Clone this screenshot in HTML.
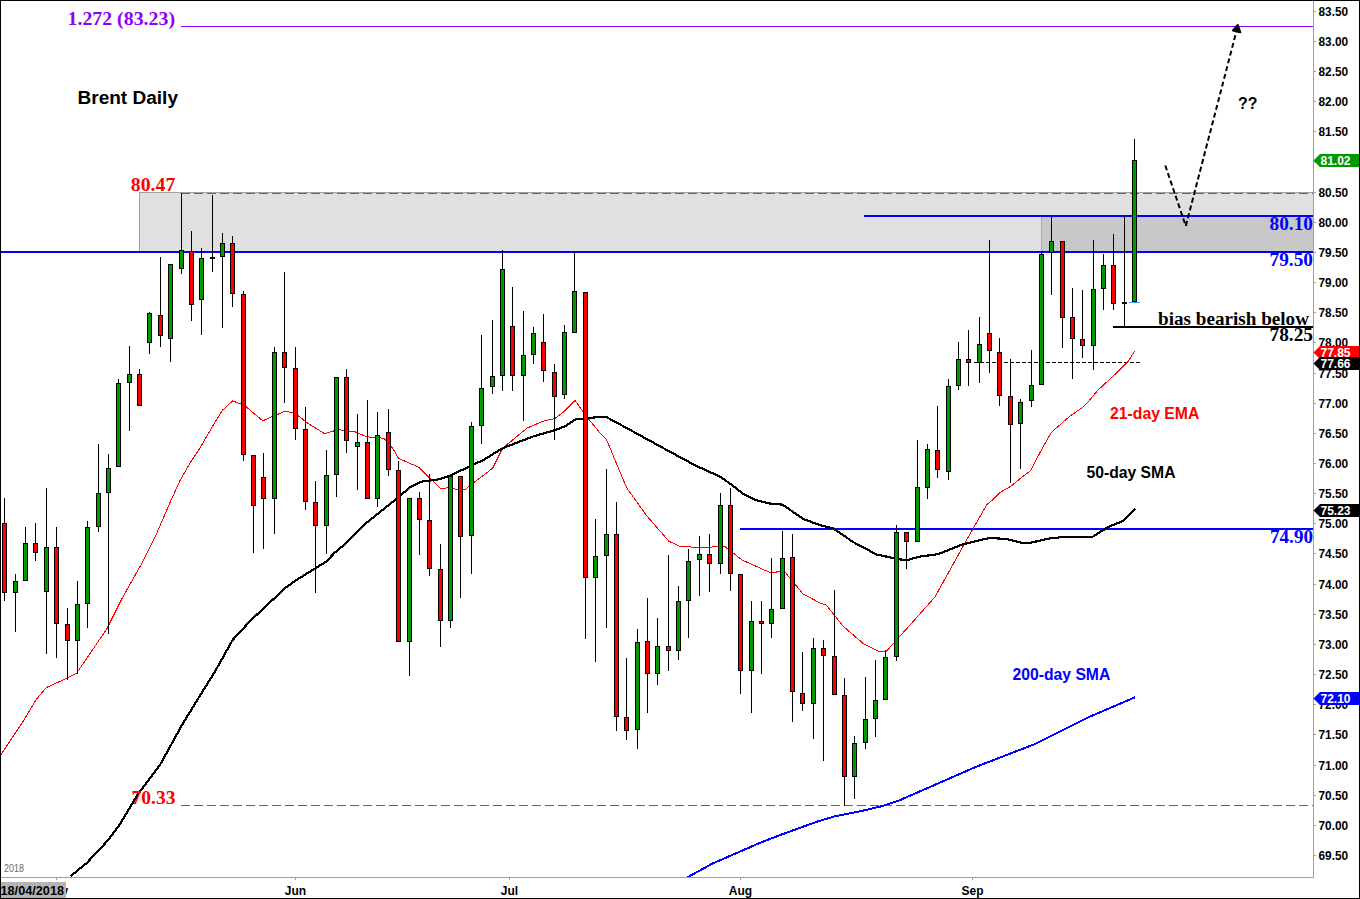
<!DOCTYPE html>
<html><head><meta charset="utf-8"><title>Brent Daily</title>
<style>html,body{margin:0;padding:0;background:#fff;width:1360px;height:899px;overflow:hidden}</style>
</head><body>
<svg width="1360" height="899" viewBox="0 0 1360 899" style="display:block">
<rect x="0" y="0" width="1360" height="899" fill="#ffffff"/>
<g shape-rendering="crispEdges">
<rect x="139" y="192" width="1174" height="60" fill="#e0e0e0"/>
<rect x="139" y="192" width="1174" height="1" fill="#a0a0a0"/>
<rect x="139" y="192" width="1" height="60" fill="#a0a0a0"/>
<rect x="1041" y="216" width="272" height="36" fill="#c8c8c8"/>
<rect x="1041" y="216" width="1" height="36" fill="#a8a8a8"/>
<line x1="181" y1="193.5" x2="1313" y2="193.5" stroke="#f02a2a" stroke-width="1" stroke-dasharray="9 4"/>
<line x1="181" y1="805.5" x2="1313" y2="805.5" stroke="#f02a2a" stroke-width="1" stroke-dasharray="9 4"/>
<rect x="181" y="26" width="1132" height="1" fill="#8a00ff"/>
<rect x="864" y="215" width="449" height="2" fill="#0000ff"/>
<rect x="0" y="251" width="1313" height="2" fill="#0000ff"/>
<rect x="740" y="528" width="573" height="2" fill="#0000ff"/>
<rect x="1113" y="326" width="200" height="2" fill="#000000"/>
<line x1="974" y1="362.5" x2="1140" y2="362.5" stroke="#000" stroke-width="1" stroke-dasharray="4 2"/>
</g>
<defs><clipPath id="plot"><rect x="1" y="1" width="1312" height="876"/></clipPath></defs>
<g clip-path="url(#plot)">
<path d="M0.0,756.0 L23.1,721.4 L36.1,699.8 L46.2,687.6 L66.7,678.3 L76.8,673.0 L106.8,628.9 L121.2,600.0 L132.4,580.0 L142.4,562.4 L155.7,535.7 L169.1,504.6 L180.2,480.1 L189.1,464.5 L200.0,447.9 L215.0,422.2 L222.6,410.1 L232.5,401.0 L243.9,404.9 L262.7,420.8 L272.8,416.4 L284.4,411.5 L294.5,412.7 L307.5,423.1 L324.8,433.8 L337.9,429.6 L355.2,431.9 L366.8,436.8 L384.1,438.3 L392.8,448.4 L398.6,458.5 L418.8,467.2 L430.4,478.7 L440.5,488.8 L450.6,487.4 L459.3,490.3 L465.0,489.7 L469.5,485.7 L492.6,468.3 L502.7,448.1 L527.3,427.9 L544.6,420.6 L554.7,418.6 L563.4,412.0 L575.0,400.4 L585.9,415.8 L600.0,432.9 L606.7,440.0 L617.8,466.7 L626.7,487.9 L646.7,515.7 L669.0,541.3 L680.1,546.4 L706.8,547.9 L715.7,546.4 L724.6,546.4 L742.4,560.2 L771.3,573.1 L778.0,571.7 L784.7,571.7 L800.0,590.2 L802.7,593.7 L820.0,603.0 L826.0,604.8 L843.4,626.5 L863.6,643.8 L878.0,651.0 L886.7,651.0 L898.3,638.0 L914.7,619.8 L934.9,597.0 L963.8,545.0 L986.9,504.5 L992.7,499.9 L1000.7,492.0 L1011.3,486.0 L1020.7,478.0 L1030.7,470.7 L1036.7,458.7 L1044.7,444.0 L1051.3,432.4 L1070.0,416.0 L1082.2,407.7 L1088.3,401.6 L1098.1,390.0 L1116.7,372.8 L1128.3,361.2 L1134.6,351.1" fill="none" stroke="#ff0000" stroke-width="1" stroke-linejoin="round" shape-rendering="crispEdges"/>
<path d="M70.8,876.0 L86.7,863.0 L108.4,839.9 L120.0,824.0 L137.3,795.1 L160.2,764.6 L182.2,724.6 L200.0,695.6 L215.4,670.8 L232.7,639.9 L250.0,621.1 L261.2,610.6 L285.8,587.5 L296.0,580.3 L314.7,568.7 L326.3,561.5 L335.0,552.4 L345.0,544.2 L363.9,525.0 L392.8,501.8 L410.1,487.4 L421.7,481.6 L439.0,479.3 L450.6,475.3 L465.0,468.6 L483.9,459.7 L502.7,448.1 L533.0,436.5 L554.7,430.2 L564.8,426.4 L576.4,418.6 L584.5,418.7 L600.0,416.7 L605.6,416.7 L622.2,425.6 L644.5,437.8 L666.7,450.0 L695.7,465.6 L720.1,476.7 L731.3,484.5 L742.4,493.4 L755.7,500.1 L769.1,503.4 L782.4,504.6 L790.0,509.8 L803.7,519.2 L818.9,524.7 L833.4,528.6 L853.6,542.3 L876.8,554.6 L894.1,558.2 L905.7,560.4 L920.5,556.5 L937.8,554.2 L960.9,545.0 L981.2,539.8 L990.0,537.9 L1007.1,539.1 L1021.8,542.8 L1030.3,542.8 L1048.7,538.6 L1065.8,536.7 L1092.7,536.7 L1107.4,527.4 L1123.3,520.8 L1135.5,508.6" fill="none" stroke="#000000" stroke-width="2.2" stroke-linejoin="round" shape-rendering="crispEdges"/>
<path d="M686.0,878.0 L688.9,876.5 L712.4,863.6 L736.6,853.0 L760.9,842.5 L781.9,834.4 L817.5,821.5 L833.7,816.6 L858.0,811.8 L882.3,806.1 L900.0,800.1 L933.4,785.5 L976.1,766.8 L1034.8,744.1 L1088.2,717.4 L1134.9,697.4" fill="none" stroke="#0000ff" stroke-width="2" stroke-linejoin="round" shape-rendering="crispEdges"/>
</g>
<g shape-rendering="crispEdges">
<rect x="1129" y="302" width="11" height="1" fill="#22a6ff"/>
<rect x="4" y="498" width="1" height="103" fill="#000"/>
<rect x="2" y="523" width="5" height="70" fill="#000"/>
<rect x="3" y="524" width="3" height="68" fill="#ff0000"/>
<rect x="15" y="574" width="1" height="58" fill="#000"/>
<rect x="13" y="581" width="5" height="12" fill="#000"/>
<rect x="14" y="582" width="3" height="10" fill="#009a00"/>
<rect x="25" y="527" width="1" height="54" fill="#000"/>
<rect x="23" y="543" width="5" height="38" fill="#000"/>
<rect x="24" y="544" width="3" height="36" fill="#009a00"/>
<rect x="35" y="523" width="1" height="38" fill="#000"/>
<rect x="33" y="543" width="5" height="10" fill="#000"/>
<rect x="34" y="544" width="3" height="8" fill="#ff0000"/>
<rect x="46" y="488" width="1" height="166" fill="#000"/>
<rect x="44" y="547" width="5" height="45" fill="#000"/>
<rect x="45" y="548" width="3" height="43" fill="#009a00"/>
<rect x="56" y="527" width="1" height="131" fill="#000"/>
<rect x="54" y="547" width="5" height="77" fill="#000"/>
<rect x="55" y="548" width="3" height="75" fill="#ff0000"/>
<rect x="67" y="608" width="1" height="72" fill="#000"/>
<rect x="65" y="624" width="5" height="17" fill="#000"/>
<rect x="66" y="625" width="3" height="15" fill="#ff0000"/>
<rect x="77" y="581" width="1" height="93" fill="#000"/>
<rect x="75" y="604" width="5" height="37" fill="#000"/>
<rect x="76" y="605" width="3" height="35" fill="#009a00"/>
<rect x="87" y="521" width="1" height="107" fill="#000"/>
<rect x="85" y="527" width="5" height="77" fill="#000"/>
<rect x="86" y="528" width="3" height="75" fill="#009a00"/>
<rect x="98" y="444" width="1" height="88" fill="#000"/>
<rect x="96" y="493" width="5" height="34" fill="#000"/>
<rect x="97" y="494" width="3" height="32" fill="#009a00"/>
<rect x="108" y="454" width="1" height="180" fill="#000"/>
<rect x="106" y="468" width="5" height="25" fill="#000"/>
<rect x="107" y="469" width="3" height="23" fill="#009a00"/>
<rect x="118" y="379" width="1" height="88" fill="#000"/>
<rect x="116" y="383" width="5" height="84" fill="#000"/>
<rect x="117" y="384" width="3" height="82" fill="#009a00"/>
<rect x="129" y="346" width="1" height="85" fill="#000"/>
<rect x="127" y="374" width="5" height="9" fill="#000"/>
<rect x="128" y="375" width="3" height="7" fill="#009a00"/>
<rect x="139" y="369" width="1" height="37" fill="#000"/>
<rect x="137" y="374" width="5" height="32" fill="#000"/>
<rect x="138" y="375" width="3" height="30" fill="#ff0000"/>
<rect x="149" y="312" width="1" height="42" fill="#000"/>
<rect x="147" y="313" width="5" height="30" fill="#000"/>
<rect x="148" y="314" width="3" height="28" fill="#009a00"/>
<rect x="160" y="257" width="1" height="90" fill="#000"/>
<rect x="158" y="315" width="5" height="21" fill="#000"/>
<rect x="159" y="316" width="3" height="19" fill="#ff0000"/>
<rect x="170" y="264" width="1" height="98" fill="#000"/>
<rect x="168" y="264" width="5" height="75" fill="#000"/>
<rect x="169" y="265" width="3" height="73" fill="#009a00"/>
<rect x="181" y="193" width="1" height="81" fill="#000"/>
<rect x="179" y="250" width="5" height="19" fill="#000"/>
<rect x="180" y="251" width="3" height="17" fill="#009a00"/>
<rect x="191" y="231" width="1" height="90" fill="#000"/>
<rect x="189" y="251" width="5" height="54" fill="#000"/>
<rect x="190" y="252" width="3" height="52" fill="#ff0000"/>
<rect x="201" y="248" width="1" height="87" fill="#000"/>
<rect x="199" y="258" width="5" height="42" fill="#000"/>
<rect x="200" y="259" width="3" height="40" fill="#009a00"/>
<rect x="212" y="195" width="1" height="77" fill="#000"/>
<rect x="210" y="257" width="5" height="2" fill="#000"/>
<rect x="222" y="233" width="1" height="95" fill="#000"/>
<rect x="220" y="243" width="5" height="14" fill="#000"/>
<rect x="221" y="244" width="3" height="12" fill="#009a00"/>
<rect x="232" y="236" width="1" height="71" fill="#000"/>
<rect x="230" y="243" width="5" height="51" fill="#000"/>
<rect x="231" y="244" width="3" height="49" fill="#ff0000"/>
<rect x="243" y="291" width="1" height="170" fill="#000"/>
<rect x="241" y="294" width="5" height="161" fill="#000"/>
<rect x="242" y="295" width="3" height="159" fill="#ff0000"/>
<rect x="253" y="455" width="1" height="98" fill="#000"/>
<rect x="251" y="455" width="5" height="51" fill="#000"/>
<rect x="252" y="456" width="3" height="49" fill="#ff0000"/>
<rect x="263" y="453" width="1" height="96" fill="#000"/>
<rect x="261" y="477" width="5" height="22" fill="#000"/>
<rect x="262" y="478" width="3" height="20" fill="#ff0000"/>
<rect x="274" y="347" width="1" height="187" fill="#000"/>
<rect x="272" y="352" width="5" height="147" fill="#000"/>
<rect x="273" y="353" width="3" height="145" fill="#009a00"/>
<rect x="284" y="272" width="1" height="131" fill="#000"/>
<rect x="282" y="352" width="5" height="16" fill="#000"/>
<rect x="283" y="353" width="3" height="14" fill="#ff0000"/>
<rect x="295" y="347" width="1" height="93" fill="#000"/>
<rect x="293" y="368" width="5" height="61" fill="#000"/>
<rect x="294" y="369" width="3" height="59" fill="#ff0000"/>
<rect x="305" y="407" width="1" height="103" fill="#000"/>
<rect x="303" y="429" width="5" height="73" fill="#000"/>
<rect x="304" y="430" width="3" height="71" fill="#ff0000"/>
<rect x="315" y="481" width="1" height="112" fill="#000"/>
<rect x="313" y="502" width="5" height="24" fill="#000"/>
<rect x="314" y="503" width="3" height="22" fill="#ff0000"/>
<rect x="326" y="450" width="1" height="104" fill="#000"/>
<rect x="324" y="475" width="5" height="51" fill="#000"/>
<rect x="325" y="476" width="3" height="49" fill="#009a00"/>
<rect x="336" y="377" width="1" height="120" fill="#000"/>
<rect x="334" y="377" width="5" height="98" fill="#000"/>
<rect x="335" y="378" width="3" height="96" fill="#009a00"/>
<rect x="346" y="369" width="1" height="84" fill="#000"/>
<rect x="344" y="377" width="5" height="64" fill="#000"/>
<rect x="345" y="378" width="3" height="62" fill="#ff0000"/>
<rect x="357" y="414" width="1" height="76" fill="#000"/>
<rect x="355" y="442" width="5" height="5" fill="#000"/>
<rect x="356" y="443" width="3" height="3" fill="#009a00"/>
<rect x="367" y="400" width="1" height="99" fill="#000"/>
<rect x="365" y="442" width="5" height="57" fill="#000"/>
<rect x="366" y="443" width="3" height="55" fill="#ff0000"/>
<rect x="377" y="412" width="1" height="95" fill="#000"/>
<rect x="375" y="435" width="5" height="64" fill="#000"/>
<rect x="376" y="436" width="3" height="62" fill="#009a00"/>
<rect x="388" y="409" width="1" height="67" fill="#000"/>
<rect x="386" y="432" width="5" height="38" fill="#000"/>
<rect x="387" y="433" width="3" height="36" fill="#ff0000"/>
<rect x="398" y="461" width="1" height="181" fill="#000"/>
<rect x="396" y="470" width="5" height="172" fill="#000"/>
<rect x="397" y="471" width="3" height="170" fill="#ff0000"/>
<rect x="409" y="498" width="1" height="178" fill="#000"/>
<rect x="407" y="498" width="5" height="144" fill="#000"/>
<rect x="408" y="499" width="3" height="142" fill="#009a00"/>
<rect x="419" y="492" width="1" height="63" fill="#000"/>
<rect x="417" y="498" width="5" height="22" fill="#000"/>
<rect x="418" y="499" width="3" height="20" fill="#ff0000"/>
<rect x="429" y="474" width="1" height="102" fill="#000"/>
<rect x="427" y="520" width="5" height="49" fill="#000"/>
<rect x="428" y="521" width="3" height="47" fill="#ff0000"/>
<rect x="440" y="544" width="1" height="103" fill="#000"/>
<rect x="438" y="569" width="5" height="52" fill="#000"/>
<rect x="439" y="570" width="3" height="50" fill="#ff0000"/>
<rect x="450" y="474" width="1" height="154" fill="#000"/>
<rect x="448" y="476" width="5" height="145" fill="#000"/>
<rect x="449" y="477" width="3" height="143" fill="#009a00"/>
<rect x="460" y="476" width="1" height="122" fill="#000"/>
<rect x="458" y="476" width="5" height="61" fill="#000"/>
<rect x="459" y="477" width="3" height="59" fill="#ff0000"/>
<rect x="471" y="422" width="1" height="152" fill="#000"/>
<rect x="469" y="426" width="5" height="110" fill="#000"/>
<rect x="470" y="427" width="3" height="108" fill="#009a00"/>
<rect x="481" y="335" width="1" height="109" fill="#000"/>
<rect x="479" y="388" width="5" height="38" fill="#000"/>
<rect x="480" y="389" width="3" height="36" fill="#009a00"/>
<rect x="492" y="320" width="1" height="74" fill="#000"/>
<rect x="490" y="376" width="5" height="11" fill="#000"/>
<rect x="491" y="377" width="3" height="9" fill="#009a00"/>
<rect x="502" y="250" width="1" height="141" fill="#000"/>
<rect x="500" y="269" width="5" height="107" fill="#000"/>
<rect x="501" y="270" width="3" height="105" fill="#009a00"/>
<rect x="512" y="287" width="1" height="104" fill="#000"/>
<rect x="510" y="326" width="5" height="50" fill="#000"/>
<rect x="511" y="327" width="3" height="48" fill="#ff0000"/>
<rect x="523" y="311" width="1" height="110" fill="#000"/>
<rect x="521" y="355" width="5" height="21" fill="#000"/>
<rect x="522" y="356" width="3" height="19" fill="#009a00"/>
<rect x="533" y="327" width="1" height="37" fill="#000"/>
<rect x="531" y="333" width="5" height="22" fill="#000"/>
<rect x="532" y="334" width="3" height="20" fill="#009a00"/>
<rect x="543" y="314" width="1" height="68" fill="#000"/>
<rect x="541" y="342" width="5" height="29" fill="#000"/>
<rect x="542" y="343" width="3" height="27" fill="#ff0000"/>
<rect x="554" y="364" width="1" height="76" fill="#000"/>
<rect x="552" y="372" width="5" height="25" fill="#000"/>
<rect x="553" y="373" width="3" height="23" fill="#ff0000"/>
<rect x="564" y="325" width="1" height="74" fill="#000"/>
<rect x="562" y="332" width="5" height="63" fill="#000"/>
<rect x="563" y="333" width="3" height="61" fill="#009a00"/>
<rect x="574" y="252" width="1" height="81" fill="#000"/>
<rect x="572" y="291" width="5" height="42" fill="#000"/>
<rect x="573" y="292" width="3" height="40" fill="#009a00"/>
<rect x="585" y="292" width="1" height="347" fill="#000"/>
<rect x="583" y="292" width="5" height="286" fill="#000"/>
<rect x="584" y="293" width="3" height="284" fill="#ff0000"/>
<rect x="595" y="519" width="1" height="143" fill="#000"/>
<rect x="593" y="556" width="5" height="22" fill="#000"/>
<rect x="594" y="557" width="3" height="20" fill="#009a00"/>
<rect x="606" y="469" width="1" height="159" fill="#000"/>
<rect x="604" y="534" width="5" height="22" fill="#000"/>
<rect x="605" y="535" width="3" height="20" fill="#009a00"/>
<rect x="616" y="502" width="1" height="229" fill="#000"/>
<rect x="614" y="534" width="5" height="183" fill="#000"/>
<rect x="615" y="535" width="3" height="181" fill="#ff0000"/>
<rect x="626" y="658" width="1" height="82" fill="#000"/>
<rect x="624" y="717" width="5" height="14" fill="#000"/>
<rect x="625" y="718" width="3" height="12" fill="#ff0000"/>
<rect x="637" y="629" width="1" height="120" fill="#000"/>
<rect x="635" y="642" width="5" height="88" fill="#000"/>
<rect x="636" y="643" width="3" height="86" fill="#009a00"/>
<rect x="647" y="598" width="1" height="115" fill="#000"/>
<rect x="645" y="641" width="5" height="33" fill="#000"/>
<rect x="646" y="642" width="3" height="31" fill="#ff0000"/>
<rect x="657" y="618" width="1" height="67" fill="#000"/>
<rect x="655" y="646" width="5" height="28" fill="#000"/>
<rect x="656" y="647" width="3" height="26" fill="#009a00"/>
<rect x="668" y="555" width="1" height="116" fill="#000"/>
<rect x="666" y="646" width="5" height="5" fill="#000"/>
<rect x="667" y="647" width="3" height="3" fill="#ff0000"/>
<rect x="678" y="586" width="1" height="74" fill="#000"/>
<rect x="676" y="601" width="5" height="50" fill="#000"/>
<rect x="677" y="602" width="3" height="48" fill="#009a00"/>
<rect x="688" y="549" width="1" height="89" fill="#000"/>
<rect x="686" y="561" width="5" height="40" fill="#000"/>
<rect x="687" y="562" width="3" height="38" fill="#009a00"/>
<rect x="699" y="536" width="1" height="60" fill="#000"/>
<rect x="697" y="554" width="5" height="6" fill="#000"/>
<rect x="698" y="555" width="3" height="4" fill="#009a00"/>
<rect x="709" y="534" width="1" height="58" fill="#000"/>
<rect x="707" y="554" width="5" height="10" fill="#000"/>
<rect x="708" y="555" width="3" height="8" fill="#ff0000"/>
<rect x="720" y="493" width="1" height="81" fill="#000"/>
<rect x="718" y="505" width="5" height="59" fill="#000"/>
<rect x="719" y="506" width="3" height="57" fill="#009a00"/>
<rect x="730" y="488" width="1" height="103" fill="#000"/>
<rect x="728" y="505" width="5" height="69" fill="#000"/>
<rect x="729" y="506" width="3" height="67" fill="#ff0000"/>
<rect x="740" y="574" width="1" height="120" fill="#000"/>
<rect x="738" y="574" width="5" height="97" fill="#000"/>
<rect x="739" y="575" width="3" height="95" fill="#ff0000"/>
<rect x="751" y="601" width="1" height="112" fill="#000"/>
<rect x="749" y="621" width="5" height="50" fill="#000"/>
<rect x="750" y="622" width="3" height="48" fill="#009a00"/>
<rect x="761" y="601" width="1" height="73" fill="#000"/>
<rect x="759" y="621" width="5" height="3" fill="#000"/>
<rect x="760" y="622" width="3" height="1" fill="#ff0000"/>
<rect x="771" y="558" width="1" height="80" fill="#000"/>
<rect x="769" y="609" width="5" height="15" fill="#000"/>
<rect x="770" y="610" width="3" height="13" fill="#009a00"/>
<rect x="782" y="531" width="1" height="78" fill="#000"/>
<rect x="780" y="558" width="5" height="51" fill="#000"/>
<rect x="781" y="559" width="3" height="49" fill="#009a00"/>
<rect x="792" y="534" width="1" height="188" fill="#000"/>
<rect x="790" y="557" width="5" height="135" fill="#000"/>
<rect x="791" y="558" width="3" height="133" fill="#ff0000"/>
<rect x="802" y="652" width="1" height="59" fill="#000"/>
<rect x="800" y="693" width="5" height="11" fill="#000"/>
<rect x="801" y="694" width="3" height="9" fill="#ff0000"/>
<rect x="813" y="638" width="1" height="101" fill="#000"/>
<rect x="811" y="648" width="5" height="56" fill="#000"/>
<rect x="812" y="649" width="3" height="54" fill="#009a00"/>
<rect x="823" y="640" width="1" height="121" fill="#000"/>
<rect x="821" y="648" width="5" height="8" fill="#000"/>
<rect x="822" y="649" width="3" height="6" fill="#ff0000"/>
<rect x="834" y="590" width="1" height="105" fill="#000"/>
<rect x="832" y="656" width="5" height="39" fill="#000"/>
<rect x="833" y="657" width="3" height="37" fill="#ff0000"/>
<rect x="844" y="678" width="1" height="128" fill="#000"/>
<rect x="842" y="695" width="5" height="82" fill="#000"/>
<rect x="843" y="696" width="3" height="80" fill="#ff0000"/>
<rect x="854" y="736" width="1" height="63" fill="#000"/>
<rect x="852" y="743" width="5" height="34" fill="#000"/>
<rect x="853" y="744" width="3" height="32" fill="#009a00"/>
<rect x="865" y="677" width="1" height="72" fill="#000"/>
<rect x="863" y="719" width="5" height="24" fill="#000"/>
<rect x="864" y="720" width="3" height="22" fill="#009a00"/>
<rect x="875" y="660" width="1" height="77" fill="#000"/>
<rect x="873" y="700" width="5" height="19" fill="#000"/>
<rect x="874" y="701" width="3" height="17" fill="#009a00"/>
<rect x="885" y="650" width="1" height="50" fill="#000"/>
<rect x="883" y="657" width="5" height="43" fill="#000"/>
<rect x="884" y="658" width="3" height="41" fill="#009a00"/>
<rect x="896" y="525" width="1" height="136" fill="#000"/>
<rect x="894" y="532" width="5" height="125" fill="#000"/>
<rect x="895" y="533" width="3" height="123" fill="#009a00"/>
<rect x="906" y="532" width="1" height="37" fill="#000"/>
<rect x="904" y="532" width="5" height="10" fill="#000"/>
<rect x="905" y="533" width="3" height="8" fill="#ff0000"/>
<rect x="917" y="440" width="1" height="102" fill="#000"/>
<rect x="915" y="487" width="5" height="55" fill="#000"/>
<rect x="916" y="488" width="3" height="53" fill="#009a00"/>
<rect x="927" y="444" width="1" height="55" fill="#000"/>
<rect x="925" y="449" width="5" height="39" fill="#000"/>
<rect x="926" y="450" width="3" height="37" fill="#009a00"/>
<rect x="937" y="406" width="1" height="72" fill="#000"/>
<rect x="935" y="450" width="5" height="20" fill="#000"/>
<rect x="936" y="451" width="3" height="18" fill="#ff0000"/>
<rect x="948" y="379" width="1" height="101" fill="#000"/>
<rect x="946" y="386" width="5" height="86" fill="#000"/>
<rect x="947" y="387" width="3" height="84" fill="#009a00"/>
<rect x="958" y="342" width="1" height="48" fill="#000"/>
<rect x="956" y="359" width="5" height="27" fill="#000"/>
<rect x="957" y="360" width="3" height="25" fill="#009a00"/>
<rect x="968" y="330" width="1" height="56" fill="#000"/>
<rect x="966" y="359" width="5" height="4" fill="#000"/>
<rect x="967" y="360" width="3" height="2" fill="#ff0000"/>
<rect x="979" y="317" width="1" height="66" fill="#000"/>
<rect x="977" y="344" width="5" height="19" fill="#000"/>
<rect x="978" y="345" width="3" height="17" fill="#009a00"/>
<rect x="989" y="240" width="1" height="133" fill="#000"/>
<rect x="987" y="333" width="5" height="18" fill="#000"/>
<rect x="988" y="334" width="3" height="16" fill="#ff0000"/>
<rect x="999" y="338" width="1" height="68" fill="#000"/>
<rect x="997" y="352" width="5" height="44" fill="#000"/>
<rect x="998" y="353" width="3" height="42" fill="#ff0000"/>
<rect x="1010" y="359" width="1" height="124" fill="#000"/>
<rect x="1008" y="396" width="5" height="29" fill="#000"/>
<rect x="1009" y="397" width="3" height="27" fill="#ff0000"/>
<rect x="1020" y="399" width="1" height="70" fill="#000"/>
<rect x="1018" y="402" width="5" height="22" fill="#000"/>
<rect x="1019" y="403" width="3" height="20" fill="#009a00"/>
<rect x="1031" y="350" width="1" height="57" fill="#000"/>
<rect x="1029" y="385" width="5" height="16" fill="#000"/>
<rect x="1030" y="386" width="3" height="14" fill="#009a00"/>
<rect x="1041" y="251" width="1" height="134" fill="#000"/>
<rect x="1039" y="254" width="5" height="131" fill="#000"/>
<rect x="1040" y="255" width="3" height="129" fill="#009a00"/>
<rect x="1051" y="216" width="1" height="79" fill="#000"/>
<rect x="1049" y="241" width="5" height="12" fill="#000"/>
<rect x="1050" y="242" width="3" height="10" fill="#009a00"/>
<rect x="1062" y="241" width="1" height="107" fill="#000"/>
<rect x="1060" y="241" width="5" height="77" fill="#000"/>
<rect x="1061" y="242" width="3" height="75" fill="#ff0000"/>
<rect x="1072" y="288" width="1" height="91" fill="#000"/>
<rect x="1070" y="317" width="5" height="22" fill="#000"/>
<rect x="1071" y="318" width="3" height="20" fill="#ff0000"/>
<rect x="1082" y="290" width="1" height="68" fill="#000"/>
<rect x="1080" y="339" width="5" height="7" fill="#000"/>
<rect x="1081" y="340" width="3" height="5" fill="#ff0000"/>
<rect x="1093" y="240" width="1" height="130" fill="#000"/>
<rect x="1091" y="289" width="5" height="57" fill="#000"/>
<rect x="1092" y="290" width="3" height="55" fill="#009a00"/>
<rect x="1103" y="254" width="1" height="56" fill="#000"/>
<rect x="1101" y="265" width="5" height="24" fill="#000"/>
<rect x="1102" y="266" width="3" height="22" fill="#009a00"/>
<rect x="1113" y="234" width="1" height="76" fill="#000"/>
<rect x="1111" y="265" width="5" height="39" fill="#000"/>
<rect x="1112" y="266" width="3" height="37" fill="#ff0000"/>
<rect x="1124" y="216" width="1" height="111" fill="#000"/>
<rect x="1122" y="302" width="5" height="2" fill="#000"/>
<rect x="1134" y="139" width="1" height="163" fill="#000"/>
<rect x="1132" y="160" width="5" height="142" fill="#000"/>
<rect x="1133" y="161" width="3" height="140" fill="#009a00"/>
</g>
<g fill="none" stroke="#000" stroke-width="2" >
<path d="M1165.3,165.5 L1185.8,226 L1237.5,27" stroke-dasharray="5 3"/>
<path d="M1233,30.5 L1237.8,25 L1240.3,32.3 Z" fill="#000" stroke-linejoin="round"/>
</g>
<g shape-rendering="crispEdges">
<rect x="1313" y="0" width="1" height="878" fill="#a0a0a0"/>
<rect x="0" y="877" width="1313" height="1" fill="#a0a0a0"/>
<rect x="1314" y="855" width="2" height="1" fill="#a0a0a0"/>
<rect x="1314" y="825" width="2" height="1" fill="#a0a0a0"/>
<rect x="1314" y="795" width="2" height="1" fill="#a0a0a0"/>
<rect x="1314" y="765" width="2" height="1" fill="#a0a0a0"/>
<rect x="1314" y="734" width="2" height="1" fill="#a0a0a0"/>
<rect x="1314" y="704" width="2" height="1" fill="#a0a0a0"/>
<rect x="1314" y="674" width="2" height="1" fill="#a0a0a0"/>
<rect x="1314" y="644" width="2" height="1" fill="#a0a0a0"/>
<rect x="1314" y="614" width="2" height="1" fill="#a0a0a0"/>
<rect x="1314" y="584" width="2" height="1" fill="#a0a0a0"/>
<rect x="1314" y="553" width="2" height="1" fill="#a0a0a0"/>
<rect x="1314" y="523" width="2" height="1" fill="#a0a0a0"/>
<rect x="1314" y="493" width="2" height="1" fill="#a0a0a0"/>
<rect x="1314" y="463" width="2" height="1" fill="#a0a0a0"/>
<rect x="1314" y="433" width="2" height="1" fill="#a0a0a0"/>
<rect x="1314" y="403" width="2" height="1" fill="#a0a0a0"/>
<rect x="1314" y="373" width="2" height="1" fill="#a0a0a0"/>
<rect x="1314" y="342" width="2" height="1" fill="#a0a0a0"/>
<rect x="1314" y="312" width="2" height="1" fill="#a0a0a0"/>
<rect x="1314" y="282" width="2" height="1" fill="#a0a0a0"/>
<rect x="1314" y="252" width="2" height="1" fill="#a0a0a0"/>
<rect x="1314" y="222" width="2" height="1" fill="#a0a0a0"/>
<rect x="1314" y="192" width="2" height="1" fill="#a0a0a0"/>
<rect x="1314" y="162" width="2" height="1" fill="#a0a0a0"/>
<rect x="1314" y="131" width="2" height="1" fill="#a0a0a0"/>
<rect x="1314" y="101" width="2" height="1" fill="#a0a0a0"/>
<rect x="1314" y="71" width="2" height="1" fill="#a0a0a0"/>
<rect x="1314" y="41" width="2" height="1" fill="#a0a0a0"/>
<rect x="1314" y="11" width="2" height="1" fill="#a0a0a0"/>
<rect x="56" y="878" width="1" height="2" fill="#a0a0a0"/>
<rect x="295" y="878" width="1" height="2" fill="#a0a0a0"/>
<rect x="509" y="878" width="1" height="2" fill="#a0a0a0"/>
<rect x="740" y="878" width="1" height="2" fill="#a0a0a0"/>
<rect x="972" y="878" width="1" height="2" fill="#a0a0a0"/>
</g>
<g font-family="Liberation Sans, sans-serif" font-size="12" font-weight="bold" fill="#000">
<text x="1318.5" y="859.8" textLength="29.6" lengthAdjust="spacingAndGlyphs">69.50</text>
<text x="1318.5" y="829.8" textLength="29.6" lengthAdjust="spacingAndGlyphs">70.00</text>
<text x="1318.5" y="799.8" textLength="29.6" lengthAdjust="spacingAndGlyphs">70.50</text>
<text x="1318.5" y="769.8" textLength="29.6" lengthAdjust="spacingAndGlyphs">71.00</text>
<text x="1318.5" y="738.8" textLength="29.6" lengthAdjust="spacingAndGlyphs">71.50</text>
<text x="1318.5" y="708.8" textLength="29.6" lengthAdjust="spacingAndGlyphs">72.00</text>
<text x="1318.5" y="678.8" textLength="29.6" lengthAdjust="spacingAndGlyphs">72.50</text>
<text x="1318.5" y="648.8" textLength="29.6" lengthAdjust="spacingAndGlyphs">73.00</text>
<text x="1318.5" y="618.8" textLength="29.6" lengthAdjust="spacingAndGlyphs">73.50</text>
<text x="1318.5" y="588.8" textLength="29.6" lengthAdjust="spacingAndGlyphs">74.00</text>
<text x="1318.5" y="557.8" textLength="29.6" lengthAdjust="spacingAndGlyphs">74.50</text>
<text x="1318.5" y="527.8" textLength="29.6" lengthAdjust="spacingAndGlyphs">75.00</text>
<text x="1318.5" y="497.8" textLength="29.6" lengthAdjust="spacingAndGlyphs">75.50</text>
<text x="1318.5" y="467.8" textLength="29.6" lengthAdjust="spacingAndGlyphs">76.00</text>
<text x="1318.5" y="437.8" textLength="29.6" lengthAdjust="spacingAndGlyphs">76.50</text>
<text x="1318.5" y="407.8" textLength="29.6" lengthAdjust="spacingAndGlyphs">77.00</text>
<text x="1318.5" y="377.8" textLength="29.6" lengthAdjust="spacingAndGlyphs">77.50</text>
<text x="1318.5" y="346.8" textLength="29.6" lengthAdjust="spacingAndGlyphs">78.00</text>
<text x="1318.5" y="316.8" textLength="29.6" lengthAdjust="spacingAndGlyphs">78.50</text>
<text x="1318.5" y="286.8" textLength="29.6" lengthAdjust="spacingAndGlyphs">79.00</text>
<text x="1318.5" y="256.8" textLength="29.6" lengthAdjust="spacingAndGlyphs">79.50</text>
<text x="1318.5" y="226.8" textLength="29.6" lengthAdjust="spacingAndGlyphs">80.00</text>
<text x="1318.5" y="196.8" textLength="29.6" lengthAdjust="spacingAndGlyphs">80.50</text>
<text x="1318.5" y="166.8" textLength="29.6" lengthAdjust="spacingAndGlyphs">81.00</text>
<text x="1318.5" y="135.8" textLength="29.6" lengthAdjust="spacingAndGlyphs">81.50</text>
<text x="1318.5" y="105.8" textLength="29.6" lengthAdjust="spacingAndGlyphs">82.00</text>
<text x="1318.5" y="75.8" textLength="29.6" lengthAdjust="spacingAndGlyphs">82.50</text>
<text x="1318.5" y="45.8" textLength="29.6" lengthAdjust="spacingAndGlyphs">83.00</text>
<text x="1318.5" y="15.8" textLength="29.6" lengthAdjust="spacingAndGlyphs">83.50</text>
<text x="56.5" y="894.5" text-anchor="middle">May</text>
<text x="295.5" y="894.5" text-anchor="middle">Jun</text>
<text x="509.5" y="894.5" text-anchor="middle">Jul</text>
<text x="740.5" y="894.5" text-anchor="middle">Aug</text>
<text x="972.5" y="894.5" text-anchor="middle">Sep</text>
</g>
<text x="4" y="872.3" font-family="Liberation Sans, sans-serif" font-size="10" fill="#6a6a6a" textLength="20" lengthAdjust="spacingAndGlyphs">2018</text>
<rect x="0" y="882" width="66" height="16" fill="#b4b4b4" shape-rendering="crispEdges"/>
<text x="0.5" y="894.5" font-family="Liberation Sans, sans-serif" font-size="13" font-weight="bold" fill="#000" textLength="63.5" lengthAdjust="spacingAndGlyphs">18/04/2018</text>
<path d="M1313.5,160.5 L1320,154 L1359,154 L1359,167 L1320,167 Z" fill="#009900"/>
<text x="1320.5" y="165" font-family="Liberation Sans, sans-serif" font-size="12" font-weight="bold" fill="#fff" textLength="30" lengthAdjust="spacingAndGlyphs">81.02</text>
<path d="M1313.5,352.5 L1320,346 L1359,346 L1359,359 L1320,359 Z" fill="#ff0000"/>
<text x="1320.5" y="357" font-family="Liberation Sans, sans-serif" font-size="12" font-weight="bold" fill="#fff" textLength="30" lengthAdjust="spacingAndGlyphs">77.85</text>
<path d="M1313.5,363.5 L1320,357 L1359,357 L1359,370 L1320,370 Z" fill="#000000"/>
<text x="1320.5" y="368" font-family="Liberation Sans, sans-serif" font-size="12" font-weight="bold" fill="#fff" textLength="30" lengthAdjust="spacingAndGlyphs">77.66</text>
<path d="M1313.5,510.5 L1320,504 L1359,504 L1359,517 L1320,517 Z" fill="#000000"/>
<text x="1320.5" y="515" font-family="Liberation Sans, sans-serif" font-size="12" font-weight="bold" fill="#fff" textLength="30" lengthAdjust="spacingAndGlyphs">75.23</text>
<path d="M1313.5,698.5 L1320,692 L1359,692 L1359,705 L1320,705 Z" fill="#0000ff"/>
<text x="1320.5" y="703" font-family="Liberation Sans, sans-serif" font-size="12" font-weight="bold" fill="#fff" textLength="30" lengthAdjust="spacingAndGlyphs">72.10</text>
<text x="67.5" y="25" font-family="Liberation Serif, serif" font-size="18" font-weight="bold" fill="#8a00ff" textLength="107.5" lengthAdjust="spacingAndGlyphs">1.272 (83.23)</text>
<text x="77.5" y="103.7" font-family="Liberation Sans, sans-serif" font-size="18" font-weight="bold" fill="#000" textLength="100.5" lengthAdjust="spacingAndGlyphs">Brent Daily</text>
<text x="130.8" y="190.8" font-family="Liberation Serif, serif" font-size="18" font-weight="bold" fill="#ff0000" textLength="44.5" lengthAdjust="spacingAndGlyphs">80.47</text>
<text x="131.5" y="803.7" font-family="Liberation Serif, serif" font-size="18" font-weight="bold" fill="#ff0000" textLength="44" lengthAdjust="spacingAndGlyphs">70.33</text>
<text x="1269.5" y="229.7" font-family="Liberation Serif, serif" font-size="18" font-weight="bold" fill="#0000ff" textLength="43.5" lengthAdjust="spacingAndGlyphs">80.10</text>
<text x="1269.5" y="265.6" font-family="Liberation Serif, serif" font-size="18" font-weight="bold" fill="#0000ff" textLength="43.5" lengthAdjust="spacingAndGlyphs">79.50</text>
<text x="1158" y="324.8" font-family="Liberation Serif, serif" font-size="18" font-weight="bold" fill="#000" textLength="151" lengthAdjust="spacingAndGlyphs">bias bearish below</text>
<text x="1269.5" y="341.3" font-family="Liberation Serif, serif" font-size="18" font-weight="bold" fill="#000" textLength="43.5" lengthAdjust="spacingAndGlyphs">78.25</text>
<text x="1270" y="543.1" font-family="Liberation Serif, serif" font-size="18" font-weight="bold" fill="#0000ff" textLength="43" lengthAdjust="spacingAndGlyphs">74.90</text>
<text x="1110" y="419.1" font-family="Liberation Sans, sans-serif" font-size="16" font-weight="bold" fill="#ff0000" textLength="89.4" lengthAdjust="spacingAndGlyphs">21-day EMA</text>
<text x="1086.5" y="477.8" font-family="Liberation Sans, sans-serif" font-size="16" font-weight="bold" fill="#000" textLength="89" lengthAdjust="spacingAndGlyphs">50-day SMA</text>
<text x="1012.5" y="679.7" font-family="Liberation Sans, sans-serif" font-size="16" font-weight="bold" fill="#0000ff" textLength="97.8" lengthAdjust="spacingAndGlyphs">200-day SMA</text>
<text x="1238" y="109.2" font-family="Liberation Sans, sans-serif" font-size="16" font-weight="bold" fill="#000" textLength="19.4" lengthAdjust="spacingAndGlyphs">??</text>
<g shape-rendering="crispEdges" fill="#000">
<rect x="0" y="0" width="1360" height="1"/>
<rect x="0" y="898" width="1360" height="1"/>
<rect x="0" y="0" width="1" height="899"/>
<rect x="1359" y="0" width="1" height="899"/>
</g>
</svg>
</body></html>
